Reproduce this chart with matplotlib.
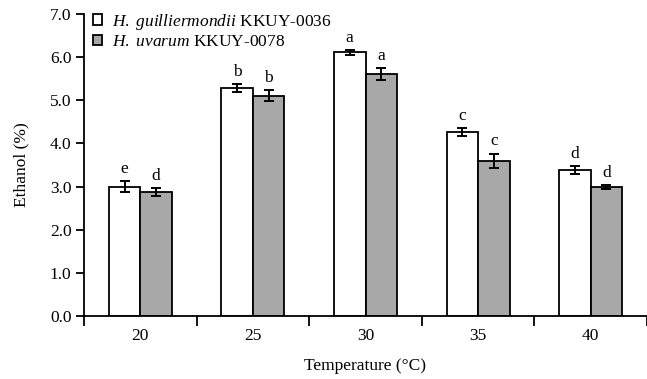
import matplotlib.pyplot as plt
import numpy as np

plt.rcParams['font.family'] = ['Liberation Serif', 'DejaVu Serif']
plt.rcParams['mathtext.fontset'] = 'custom'
plt.rcParams['mathtext.rm'] = 'Liberation Serif'
plt.rcParams['mathtext.it'] = 'Liberation Serif:italic'

# Данные
temps = ['20', '25', '30', '35', '40']
guill = [3.0, 5.28, 6.11, 4.26, 3.39]
guill_err = [0.13, 0.09, 0.05, 0.09, 0.09]
uvarum = [2.87, 5.11, 5.61, 3.60, 2.99]
uvarum_err = [0.09, 0.13, 0.14, 0.16, 0.05]
guill_letters = ['e', 'b', 'a', 'c', 'd']
uvarum_letters = ['d', 'b', 'a', 'c', 'd']

fs = 12.5

fig = plt.figure(figsize=(6.47, 3.79), dpi=100)
ax = fig.add_axes([84 / 647, 1 - 316 / 379, 1 - 84 / 647, (316 - 14) / 379])

x = np.arange(len(temps))
w = 0.28
ek = dict(ecolor='black', elinewidth=1.4, capsize=3.5, capthick=1.4)

ax.bar(x - w / 2, guill, w, yerr=guill_err, color='white', edgecolor='black',
       linewidth=1.3, error_kw=ek, label=r'$\it{H.\ guilliermondii}$ KKUY-0036', zorder=2)
ax.bar(x + w / 2, uvarum, w, yerr=uvarum_err, color='#a8a8a8', edgecolor='black',
       linewidth=1.3, error_kw=ek, label=r'$\it{H.\ uvarum}$ KKUY-0078', zorder=2)

# Буквы значимости
for i in range(len(temps)):
    ax.text(x[i] - w / 2, guill[i] + guill_err[i] + 0.1, guill_letters[i],
            ha='center', va='bottom', fontsize=fs)
    ax.text(x[i] + w / 2, uvarum[i] + uvarum_err[i] + 0.1, uvarum_letters[i],
            ha='center', va='bottom', fontsize=fs)

ax.set_ylim(0, 7)
ax.set_xlim(-0.5, (647 - 84) / 114 - 0.5)
ax.set_yticks(np.arange(0, 7.1, 1.0))
ax.set_yticklabels([f'{v:.1f}' for v in np.arange(0, 7.1, 1.0)])

# Подписи категорий по центру, деления между группами
ax.set_xticks(np.arange(-0.5, 5, 1.0))
ax.set_xticklabels([])
ax.set_xticks(x, minor=True)
ax.set_xticklabels(temps, minor=True)
ax.tick_params(axis='x', which='minor', length=0, pad=9, labelsize=fs)
ax.tick_params(axis='x', which='major', length=7, width=1.3, direction='out')
ax.tick_params(axis='y', length=6, width=1.3, labelsize=fs, pad=3)

for s in ['top', 'right']:
    ax.spines[s].set_visible(False)
for s in ['left', 'bottom']:
    ax.spines[s].set_linewidth(1.3)

ax.set_ylabel('Ethanol (%)', fontsize=fs, labelpad=15)
ax.set_xlabel('Temperature (°C)', fontsize=fs, labelpad=10)

leg = ax.legend(loc='upper left', bbox_to_anchor=(-0.012, 1.06), frameon=False, fontsize=fs,
                handlelength=0.55, handleheight=0.55, handletextpad=0.55, labelspacing=0.15)

plt.savefig('out.png', dpi=100)
